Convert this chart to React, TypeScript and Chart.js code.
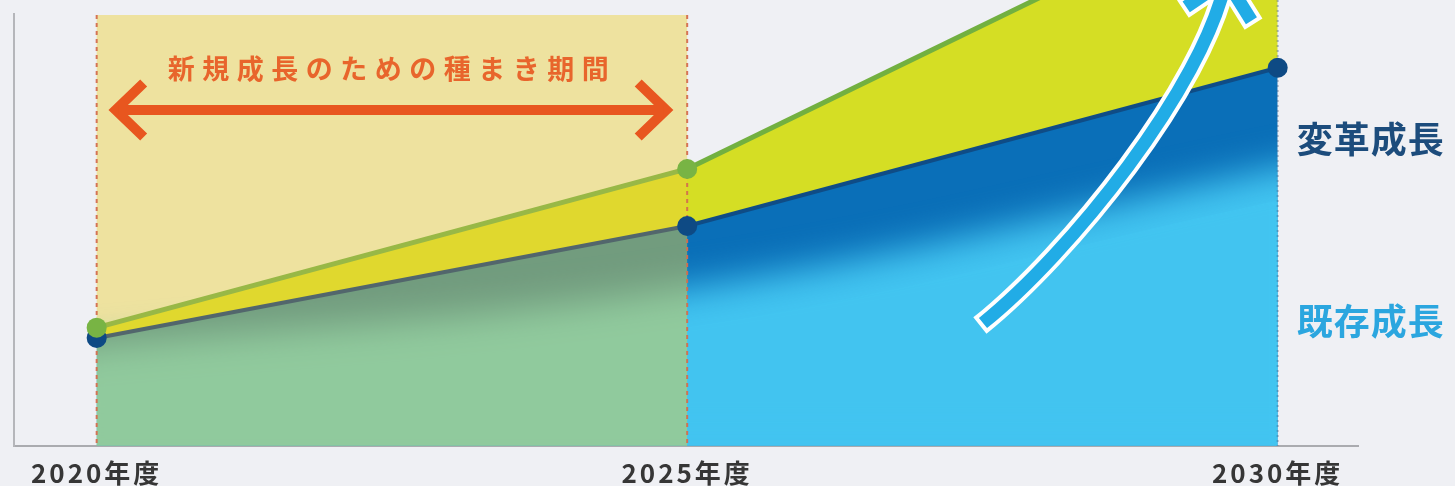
import React, { useEffect, useRef } from 'react';
import { Chart, registerables } from 'chart.js';

// ---- data ----
const years = [2020, 2025, 2030];
const tickYears = [2020, 2025, 2030];
const totalGrowth = [26.5, 62.1, 126.5]; // 既存 + 変革 + 新規 (green line)
const transformGrowth = [24.2, 49.3, 84.8]; // 変革成長 (navy line)
const existingGrowth = [22.0, 35.5, 64.0]; // 既存成長 (light blue)
const seedPeriod = [2020, 2025];
const periodLabel = '新規成長のための種まき期間';
const transformLabel = '変革成長';
const existingLabel = '既存成長';
const tickSuffix = '年度';

const FONT = '"Noto Sans CJK JP", "Noto Sans", sans-serif';

function drawPeriodOverlay(chart: any) {
  const { ctx, chartArea } = chart;
  const xs = chart.scales.x;
  const l = xs.getPixelForValue(seedPeriod[0]);
  const r = xs.getPixelForValue(seedPeriod[1]);
  const top = 15;
  ctx.save();
  ctx.fillStyle = 'rgba(238,210,58,0.46)';
  ctx.fillRect(l, top, r - l, chartArea.bottom - top);
  ctx.strokeStyle = 'rgba(212,110,78,0.95)';
  ctx.lineWidth = 2;
  ctx.setLineDash([4, 4]);
  for (const x of [l, r]) {
    ctx.beginPath();
    ctx.moveTo(x, top);
    ctx.lineTo(x, chartArea.bottom);
    ctx.stroke();
  }
  const x30 = xs.getPixelForValue(years[years.length - 1]);
  ctx.strokeStyle = 'rgba(60,90,130,0.4)';
  ctx.setLineDash([2, 3]);
  ctx.beginPath();
  ctx.moveTo(x30, 0);
  ctx.lineTo(x30, chartArea.bottom);
  ctx.stroke();
  ctx.restore();
}

// registered before the built-ins so its hooks run before the filler's
const fxPlugin = {
  id: 'fxSoftFill',
  beforeDraw(chart: any) {
    chart.ctx.letterSpacing = '3px';
  },
  beforeDatasetsDraw(chart: any) {
    chart.ctx.letterSpacing = '0px';
  },
  beforeDatasetDraw(chart: any, args: any) {
    const ds: any = chart.data.datasets[args.index];
    if (!ds || !ds.fx) return;
    const ctx = chart.ctx;
    const xs = chart.scales.x;
    const { top, bottom } = chart.chartArea;
    const l = xs.getPixelForValue(years[0]);
    const r = xs.getPixelForValue(years[years.length - 1]);
    ctx.save();
    ctx.beginPath();
    ctx.rect(l, top, r - l, bottom - top);
    ctx.clip();
    if (ds.fx === 'blur') {
      const cx = (l + r) / 2;
      ctx.translate(cx, 0);
      ctx.scale(1.06, 1);
      ctx.translate(-cx, 0);
      ctx.filter = 'blur(18px)';
    } else if (ds.fx === 'shift') {
      ctx.translate(0, 40);
    }
  },
  afterDatasetDraw(chart: any, args: any) {
    const ds: any = chart.data.datasets[args.index];
    if (!ds) return;
    if (ds.fx) chart.ctx.restore();
    if (ds.overlayAfter) drawPeriodOverlay(chart);
  },
};

Chart.register(fxPlugin as any);
Chart.register(...registerables);

const annotations = {
  id: 'annotations',
  afterDatasetsDraw(chart: any) {
    const { ctx, chartArea } = chart;
    const xs = chart.scales.x;
    const l = xs.getPixelForValue(seedPeriod[0]);
    const r = xs.getPixelForValue(seedPeriod[1]);
    ctx.save();
    // y axis line
    ctx.strokeStyle = '#b5b6ba';
    ctx.lineWidth = 2;
    ctx.beginPath();
    ctx.moveTo(chartArea.left, 13);
    ctx.lineTo(chartArea.left, chartArea.bottom + 1);
    ctx.stroke();

    // orange double arrow
    const ay = 110;
    const a0 = l + 19;
    const a1 = r - 21;
    ctx.strokeStyle = '#e8561f';
    ctx.lineWidth = 10;
    ctx.lineJoin = 'miter';
    ctx.lineCap = 'butt';
    ctx.beginPath();
    ctx.moveTo(a0 + 28, ay - 27);
    ctx.lineTo(a0, ay);
    ctx.lineTo(a0 + 28, ay + 27);
    ctx.stroke();
    ctx.beginPath();
    ctx.moveTo(a1 - 28, ay - 27);
    ctx.lineTo(a1, ay);
    ctx.lineTo(a1 - 28, ay + 27);
    ctx.stroke();
    ctx.beginPath();
    ctx.moveTo(a0 + 3, ay);
    ctx.lineTo(a1 - 3, ay);
    ctx.stroke();

    ctx.fillStyle = '#e8652c';
    ctx.font = `700 27px ${FONT}`;
    ctx.textAlign = 'center';
    ctx.textBaseline = 'middle';
    ctx.letterSpacing = '7.5px';
    ctx.fillText(periodLabel, (l + r) / 2, 69);
    ctx.letterSpacing = '0px';

    // curved growth arrow
    const P0 = [983, 323];
    const C1 = [1069, 254];
    const C2 = [1203, 88];
    const T = [1226, -20];
    const wing = (deg: number, len: number) => [
      T[0] + len * Math.cos((deg * Math.PI) / 180),
      T[1] + len * Math.sin((deg * Math.PI) / 180),
    ];
    const drawArrow = (color: string, w: number, ext: number) => {
      ctx.strokeStyle = color;
      ctx.lineWidth = w;
      ctx.lineCap = 'butt';
      ctx.lineJoin = 'miter';
      ctx.beginPath();
      ctx.moveTo(P0[0] - 0.78 * ext, P0[1] + 0.625 * ext);
      ctx.bezierCurveTo(C1[0], C1[1], C2[0], C2[1], T[0], T[1]);
      ctx.stroke();
      const w1 = wing(58, 48 + ext);
      const w2 = wing(146, 48 + ext);
      ctx.beginPath();
      ctx.moveTo(w1[0], w1[1]);
      ctx.lineTo(T[0], T[1]);
      ctx.lineTo(w2[0], w2[1]);
      ctx.stroke();
    };
    drawArrow('#ffffff', 21, 4);
    drawArrow('#21ace6', 13, 0);
    ctx.restore();
  },
  afterDraw(chart: any) {
    const { ctx } = chart;
    const xs = chart.scales.x;
    const x = xs.getPixelForValue(years[years.length - 1]) + 19;
    ctx.save();
    ctx.letterSpacing = '1px';
    ctx.font = `700 36px ${FONT}`;
    ctx.textAlign = 'left';
    ctx.textBaseline = 'middle';
    ctx.fillStyle = '#1c4c7c';
    ctx.fillText(transformLabel, x, 139);
    ctx.fillStyle = '#2ba6df';
    ctx.fillText(existingLabel, x, 321);
    ctx.restore();
  },
};

const pts = (vals: number[]) => years.map((x, i) => ({ x, y: vals[i] }));

export default function App() {
  const ref = useRef<HTMLCanvasElement | null>(null);
  useEffect(() => {
    if (!ref.current) return;
    const chart = new Chart(ref.current, {
      type: 'line',
      data: {
        datasets: [
          {
            label: transformLabel,
            data: pts(transformGrowth),
            order: 1,
            borderColor: '#0f4c86',
            borderWidth: 4,
            pointRadius: 10,
            pointBackgroundColor: '#0e4a84',
            pointBorderWidth: 0,
            fill: false,
            segment: { borderColor: (c: any) => (c.p0DataIndex === 0 ? '#52666c' : undefined) },
          },
          {
            label: '成長合計',
            data: pts(totalGrowth),
            order: 0,
            borderColor: '#72b040',
            borderWidth: 5,
            pointRadius: 10,
            pointBackgroundColor: '#78b444',
            pointBorderWidth: 0,
            fill: false,
            segment: { borderColor: (c: any) => (c.p0DataIndex === 0 ? '#98b846' : undefined) },
          },
          {
            label: '新規成長',
            data: pts(totalGrowth),
            order: 2,
            borderWidth: 0,
            borderColor: 'transparent',
            pointRadius: 0,
            fill: 5,
            backgroundColor: '#d5de24',
            overlayAfter: true,
          } as any,
          {
            label: existingLabel,
            data: pts(existingGrowth),
            order: 3,
            tension: 0.4,
            borderWidth: 0,
            borderColor: 'transparent',
            pointRadius: 0,
            fill: 'origin',
            backgroundColor: '#42c4f0',
            fx: 'blur',
          } as any,
          {
            label: existingLabel,
            data: pts(existingGrowth),
            order: 4,
            tension: 0.4,
            borderWidth: 0,
            borderColor: 'transparent',
            pointRadius: 0,
            fill: 'origin',
            backgroundColor: '#42c4f0',
            fx: 'shift',
          } as any,
          {
            label: transformLabel,
            data: pts(transformGrowth),
            order: 5,
            borderWidth: 0,
            borderColor: 'transparent',
            pointRadius: 0,
            fill: 'origin',
            backgroundColor: '#0a6fb8',
          },
        ],
      },
      options: {
        responsive: true,
        maintainAspectRatio: false,
        animation: false,
        events: [],
        layout: { autoPadding: false, padding: { left: 14, right: 97, top: 0, bottom: 0 } },
        plugins: {
          legend: { display: false },
          tooltip: { enabled: false },
        },
        scales: {
          x: {
            type: 'linear',
            min: 2019.3,
            max: 2030.68,
            grid: { display: false, drawTicks: false, tickLength: 0 },
            border: { display: true, color: '#aaabaf', width: 2 },
            afterBuildTicks: (axis: any) => {
              axis.ticks = tickYears.map((v) => ({ value: v }));
            },
            ticks: {
              padding: 12,
              color: '#363636',
              font: { family: FONT, size: 26, weight: 'bold' },
              callback: (v: any) => `${v}${tickSuffix}`,
            },
          },
          y: { display: false, min: 0, max: 100 },
        },
      },
      plugins: [annotations],
    } as any);
    return () => chart.destroy();
  }, []);
  return (
    <div
      style={{
        position: 'fixed',
        left: 0,
        top: 0,
        width: 1455,
        height: 501,
        background: '#eff0f4',
      }}
    >
      <canvas ref={ref} />
    </div>
  );
}
